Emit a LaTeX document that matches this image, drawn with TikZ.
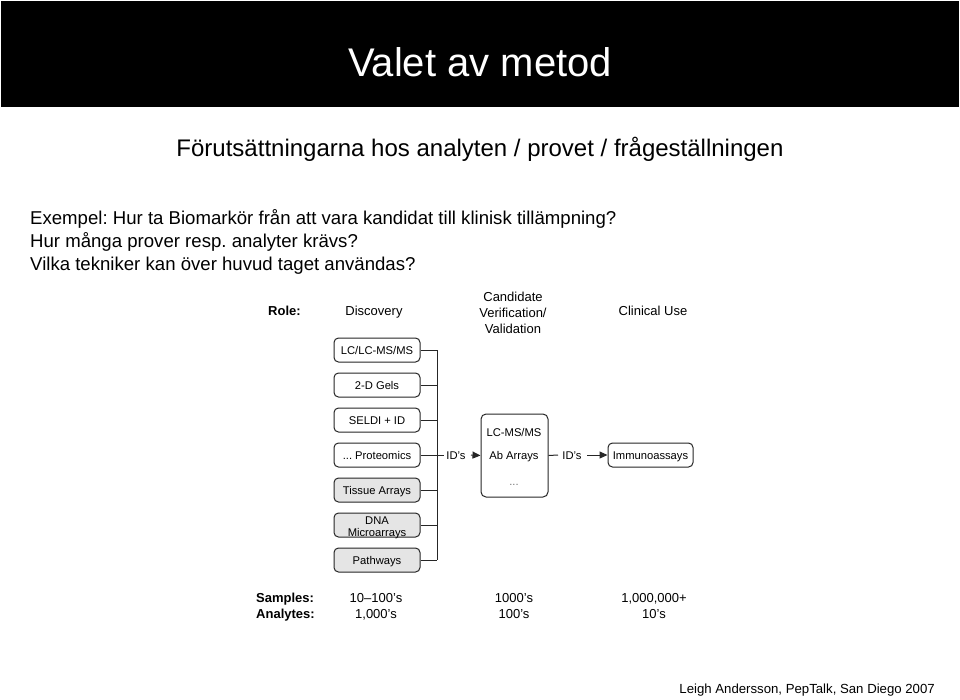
\documentclass[tikz,border=0pt]{standalone}
\usepackage{fontspec}
\setmainfont{Liberation Sans}
\usetikzlibrary{arrows.meta}
\begin{document}
\frenchspacing
\begin{tikzpicture}[x=1pt,y=-1pt,
  txt/.style={inner sep=0pt, text height=#1, text depth=0pt},
  dbox/.style={draw=black!85, line width=1pt, rounded corners=4.5pt, minimum width=86pt, minimum height=24pt, inner sep=0pt, font=\fontsize{11.2}{12}\selectfont, text height=8pt, text depth=0pt, fill=white},
  gbox/.style={dbox, fill=black!10},
  wire/.style={draw=black!85, line width=1pt},
  arr/.style={wire, -{Triangle[length=8pt,width=7pt]}},
  hdr/.style={txt=9.3pt, font=\fontsize{13}{16}\selectfont},
  hdrb/.style={txt=9.3pt, font=\fontsize{13}{16}\selectfont\bfseries},
  small/.style={txt=8pt, font=\fontsize{11.2}{12}\selectfont},
  body/.style={txt=13.3pt, anchor=west, font=\fontsize{18.6}{23}\selectfont}
]
\useasboundingbox (0,0) rectangle (960,699);
% banner
\fill[black] (1,1) rectangle (959,107);
\node[txt=28.6pt, text=white, font=\fontsize{40}{48}\selectfont] (title) at (480,62) {Valet av metod};
\node[txt=17.2pt, font=\fontsize{24}{28}\selectfont] (sub) at (480,148) {Förutsättningarna hos analyten / provet / frågeställningen};
\node[body] (l1) at (30,218) {Exempel: Hur ta Biomarkör från att vara kandidat till klinisk tillämpning?};
\node[body] (l2) at (30,241) {Hur många prover resp. analyter krävs?};
\node[body] (l3) at (30,264) {Vilka tekniker kan över huvud taget användas?};
\node[txt=9.5pt, anchor=east, font=\fontsize{13.2}{16}\selectfont] (foot) at (935,689) {Leigh Andersson, PepTalk, San Diego 2007};

% diagram headers
\node[hdrb, anchor=west] (role) at (268,311) {Role:};
\node[hdr] (disc) at (374,311) {Discovery};
\node[hdr] (cand1) at (513,297) {Candidate};
\node[hdr] (cand2) at (513,313) {Verification/};
\node[hdr] (cand3) at (513,329) {Validation};
\node[hdr] (clin) at (653,311) {Clinical Use};

% discovery boxes
\node[dbox] (b1) at (377,350) {LC/LC-MS/MS};
\node[dbox] (b2) at (377,385) {2-D Gels};
\node[dbox] (b3) at (377,420) {SELDI + ID};
\node[dbox] (b4) at (377,455) {... Proteomics};
\node[gbox] (b5) at (377,490) {Tissue Arrays};
\node[gbox] (b6) at (377,525) {};
\node[small] (b6a) at (377,520) {DNA};
\node[small] (b6b) at (377,532) {Microarrays};
\node[gbox] (b7) at (377,560) {Pathways};

\coordinate (bt) at (437,350);
\coordinate (bb) at (437,560);
\draw[wire] (bt) -- (bb);
\foreach \b in {b1,b2,b3,b5,b6,b7} \draw[wire] (\b.east) -- (\b.east -| bt);

% middle box
\node[draw=black!85, line width=1pt, rounded corners=5pt, minimum width=67pt, minimum height=83pt, inner sep=0pt] (mid) at (514.5,455.5) {};
\node[small] (m1) at (514,432) {LC-MS/MS};
\node[small] (m2) at (514,455) {Ab Arrays};
\node[small, text=black!55] (m3) at (514,481) {...};

% immunoassays
\node[dbox, minimum width=85pt] (imm) at (650.5,455) {Immunoassays};

% connectors
\coordinate (c1) at (444,455);
\draw[wire] (b4.east) -- (c1);
\node[small] (id1) at (456,455) {ID's};
\coordinate (c2) at (471,455);
\draw[arr] (c2) -- (mid.west);
\coordinate (c3) at (558,455);
\draw[wire] (mid.east) -- (c3);
\node[small] (id2) at (572,455) {ID's};
\coordinate (c4) at (587,455);
\draw[arr] (c4) -- (imm.west);

% samples / analytes
\node[hdrb, anchor=west] (samp) at (256,598) {Samples:};
\node[hdrb, anchor=west] (anal) at (256,614) {Analytes:};
\node[hdr] (s1) at (376,598) {10–100's};
\node[hdr] (a1) at (376,614) {1,000's};
\node[hdr] (s2) at (514,598) {1000's};
\node[hdr] (a2) at (514,614) {100's};
\node[hdr] (s3) at (654,598) {1,000,000+};
\node[hdr] (a3) at (654,614) {10's};
\end{tikzpicture}
\end{document}
